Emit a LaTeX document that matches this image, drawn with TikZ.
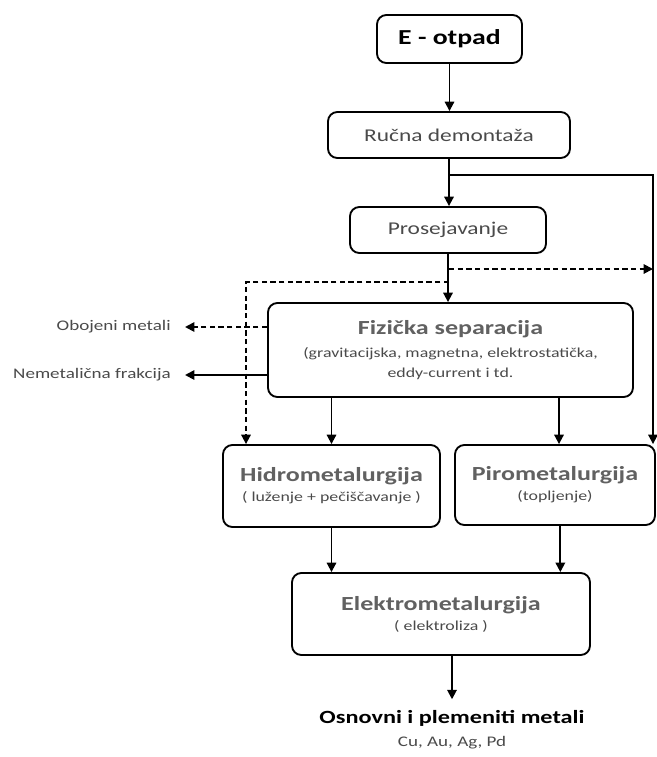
\documentclass[tikz,border=0pt]{standalone}
\usepackage{fontspec}
\setmainfont{Carlito}[FakeStretch=1.3]
\usetikzlibrary{arrows.meta}
\definecolor{boxtext}{HTML}{4A4A4A}
\definecolor{titlegray}{HTML}{616161}
\newcommand{\boxtitle}[1]{{\fontsize{15}{17}\selectfont\bfseries\color{titlegray}#1}}
\newcommand{\boxnote}[1]{{\fontsize{10.3}{12}\selectfont #1}}

\begin{document}
\begin{tikzpicture}[x=0.75pt, y=-0.75pt, line width=1.4pt, >={Triangle[length=7pt,width=7pt]},
      box/.style={draw, rounded corners=7pt, align=center, text=boxtext, font=\fontsize{13.5}{16}\selectfont},
      side/.style={anchor=east, inner xsep=10pt, text=boxtext, font=\fontsize{11}{13}\selectfont},
      dashline/.style={dashed, dash pattern=on 4pt off 2.5pt}]
    \useasboundingbox (0,0) rectangle (657,757);
    \node[box, minimum width=108.75pt, minimum height=36pt, text=black, font=\fontsize{16}{18}\selectfont\bfseries] (eotpad) at (449.5,39) {E - otpad};
    \node[box, minimum width=181.5pt, minimum height=34.5pt] (rucna) at (449,135) {Ručna demontaža};
    \node[box, minimum width=147pt, minimum height=34.5pt] (prosej) at (448,230) {Prosejavanje};
    \node[box, minimum width=273.75pt, minimum height=70.5pt] (fizicka) at (450.5,350) {\boxtitle{Fizička separacija}\\[1pt]\boxnote{(gravitacijska, magnetna, elektrostatička,}\\[-1pt]\boxnote{eddy-current i td.}};
    \node[box, minimum width=162.75pt, minimum height=61.5pt] (hidro) at (331.5,486) {\boxtitle{Hidrometalurgija}\\[-1pt]\boxnote{( luženje + pečiščavanje )}};
    \node[box, minimum width=150pt, minimum height=60pt] (piro) at (555,485) {\boxtitle{Pirometalurgija}\\[-1pt]\boxnote{(topljenje)}};
    \node[box, minimum width=223.5pt, minimum height=61.5pt] (elektro) at (441,614) {\boxtitle{Elektrometalurgija}\\[-1pt]\boxnote{( elektroliza )}};
    \node[side] (obojeni) at (185,327) {Obojeni metali};
    \node[side] (nemet) at (185,375) {Nemetalična frakcija};
    \node[font=\fontsize{14}{16}\selectfont\bfseries] (izlaz) at (452,718) {Osnovni i plemeniti metali};
    \node[font=\fontsize{11}{13}\selectfont, text=boxtext] (izlazmet) at (452,743) {Cu, Au, Ag, Pd};
    % glavni tok
    \draw[->] (eotpad.south) -- (eotpad.south |- rucna.north);
    \draw[->] (rucna.south) -- (rucna.south |- prosej.north);
    \draw[->] (prosej.south) -- (prosej.south |- fizicka.north);
    \coordinate (split1) at (449,175);
    \coordinate (corner1) at (653,175);
    \draw[->] (split1) -- (corner1) -- (corner1 |- piro.north);
    \coordinate (split2) at (449,269);
    \draw[dashline, ->] (split2) -- (split2 -| corner1);
    \coordinate (split3) at (449,282);
    \coordinate (corner3) at (246,282);
    \draw[dashline, ->] (split3) -- (corner3) -- (corner3 |- hidro.north);
    \draw[dashline, ->] (fizicka.west |- obojeni.east) -- (obojeni.east);
    \draw[->] (fizicka.west |- nemet.east) -- (nemet.east);
    \draw[->] (fizicka.south -| hidro.north) -- (hidro.north);
    \draw[->] ([xshift=3pt]fizicka.south -| piro.north) -- ([xshift=3pt]piro.north);
    \draw[->] (hidro.south) -- (hidro.south |- elektro.north);
    \draw[->] ([xshift=4pt]piro.south) -- ([xshift=4pt]piro.south |- elektro.north);
    \draw[->] (izlaz.north |- elektro.south) -- ([yshift=4pt]izlaz.north);
  \end{tikzpicture}
\end{document}
